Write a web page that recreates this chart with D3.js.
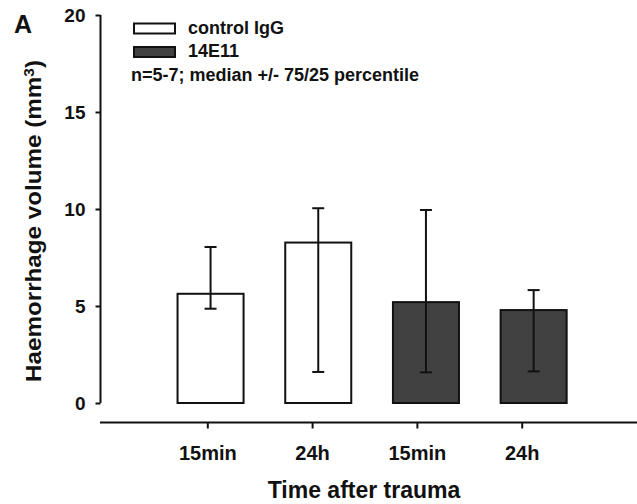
<!DOCTYPE html>
<html>
<head>
<meta charset="utf-8">
<script src="https://cdn.jsdelivr.net/npm/d3@7"></script>
<style>
    body { margin: 0; background: #fff; }
    svg text { font-family: "Liberation Sans", Arial, sans-serif; font-weight: bold; fill: #111; }
</style>
</head>
<body>
<svg id="chart" width="637" height="504"></svg>
<script>
    'use strict';

    // data (median with 25/75 percentile)
    var times = ['15min', '24h', '15min', '24h'];
    var groups = ['control IgG', 'control IgG', '14E11', '14E11'];
    var medians = [5.63, 8.27, 5.2, 4.79];
    var upper75 = [8.04, 10.04, 9.95, 5.82];
    var lower25 = [4.86, 1.6, 1.58, 1.63];
    var yTicks = [0, 5, 10, 15, 20];
    var legendGroups = ['control IgG', '14E11'];

    var colors = {'control IgG': '#ffffff', '14E11': '#414141'};

    var svg = d3.select('#chart');
    var ids = d3.range(times.length);

    var y = d3.scaleLinear().domain([0, 20]).range([403, 15]);

    // bars and the category axis sit slightly apart in the original
    var xBar = d3.scaleBand().domain(ids).range([123.7, 620.5]).paddingInner(0.387).paddingOuter(0.5);
    var xTick = d3.scalePoint().domain(ids).range([154.9, 574.1]).padding(0.5);

    // y axis
    var yAxis = svg.append('g')
        .attr('transform', 'translate(100.5,0)')
        .call(d3.axisLeft(y).tickValues(yTicks).tickSize(5).tickPadding(10));
    yAxis.selectAll('path, line').attr('stroke', '#111').attr('stroke-width', 2);
    yAxis.select('.domain').attr('d', 'M0,' + y(20) + 'V' + y(0));
    yAxis.selectAll('text').style('font-size', '19px').attr('dy', '0.35em');

    // x axis
    var xAxis = svg.append('g')
        .attr('transform', 'translate(0,422.5)')
        .call(d3.axisBottom(xTick).tickSize(6).tickPadding(17).tickFormat(function (i) { return times[i]; }));
    xAxis.selectAll('path, line').attr('stroke', '#111').attr('stroke-width', 2);
    xAxis.select('.domain').attr('d', 'M100,0H637');
    xAxis.selectAll('text').style('font-size', '20px');

    // bars
    svg.append('g').selectAll('rect')
        .data(ids)
        .enter().append('rect')
        .attr('x', function (i) { return xBar(i); })
        .attr('y', function (i) { return y(medians[i]); })
        .attr('width', xBar.bandwidth())
        .attr('height', function (i) { return y(0) - y(medians[i]); })
        .attr('fill', function (i) { return colors[groups[i]]; })
        .attr('stroke', '#111')
        .attr('stroke-width', 2);

    // percentile whiskers
    var err = svg.append('g').attr('stroke', '#111').attr('stroke-width', 2);
    ids.forEach(function (i) {
        var cx = xBar(i) + xBar.bandwidth() / 2;
        err.append('line').attr('x1', cx).attr('x2', cx).attr('y1', y(lower25[i])).attr('y2', y(upper75[i]));
        err.append('line').attr('x1', cx - 6).attr('x2', cx + 6).attr('y1', y(upper75[i])).attr('y2', y(upper75[i]));
        err.append('line').attr('x1', cx - 6).attr('x2', cx + 6).attr('y1', y(lower25[i])).attr('y2', y(lower25[i]));
    });

    // legend
    var legend = svg.append('g');
    legendGroups.forEach(function (g, k) {
        var top = 23.5 + k * 23.5;
        legend.append('rect')
            .attr('x', 134).attr('y', top).attr('width', 41).attr('height', 10)
            .attr('fill', colors[g]).attr('stroke', '#111').attr('stroke-width', 2);
        legend.append('text')
            .attr('x', 188).attr('y', top + 10)
            .style('font-size', '18px')
            .text(g);
    });
    legend.append('text')
        .attr('x', 131).attr('y', 81)
        .style('font-size', '18px')
        .text('n=5-7; median +/- 75/25 percentile');

    // titles
    svg.append('text')
        .attr('x', 364).attr('y', 498)
        .attr('text-anchor', 'middle')
        .style('font-size', '23px')
        .text('Time after trauma');

    var yTitle = svg.append('text')
        .attr('transform', 'translate(41,221) rotate(-90)')
        .attr('text-anchor', 'middle')
        .attr('textLength', 322)
        .attr('lengthAdjust', 'spacingAndGlyphs')
        .style('font-size', '22px');
    yTitle.append('tspan').text('Haemorrhage volume (mm');
    yTitle.append('tspan').attr('dy', '-0.5em').style('font-size', '14px').text('3');
    yTitle.append('tspan').attr('dy', '0.32em').text(')');

    svg.append('text')
        .attr('x', 14).attr('y', 33)
        .style('font-size', '25px')
        .text('A');
</script>
</body>
</html>
